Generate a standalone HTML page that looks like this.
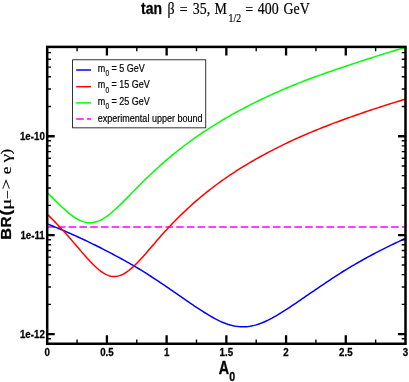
<!DOCTYPE html>
<html><head><meta charset="utf-8"><title>plot</title>
<style>html,body{margin:0;padding:0;background:#fff;overflow:hidden;-webkit-font-smoothing:antialiased}svg{display:block}text{font-family:"Liberation Sans",sans-serif;fill:#000;stroke:#000;stroke-width:0.2px;stroke-linejoin:round}.b{font-weight:bold;stroke-width:0.27px}.s{font-family:"Liberation Serif",serif}</style></head><body>
<svg style="will-change:transform" width="409" height="382" viewBox="0 0 409 382">
<rect x="0" y="0" width="409" height="382" fill="#fff"/>
<defs><clipPath id="cp"><rect x="47.2" y="46.9" width="358.3" height="296.85"/></clipPath></defs>
<g clip-path="url(#cp)" fill="none" stroke-width="1.5" stroke-linejoin="round">
<path d="M47.2,227.05 L405.5,227.05" stroke="#ff00ff" stroke-dasharray="7.6 3.147"/>
<path d="M47.20,192.44 L49.19,194.41 L51.18,196.40 L53.17,198.38 L55.16,200.36 L57.15,202.33 L59.14,204.27 L61.13,206.18 L63.12,208.06 L65.12,209.89 L67.11,211.65 L69.10,213.34 L71.09,214.93 L73.08,216.41 L75.07,217.75 L77.06,218.96 L79.05,220.01 L81.04,220.89 L83.03,221.61 L85.02,222.15 L87.01,222.50 L89.00,222.66 L90.99,222.63 L92.98,222.45 L94.97,222.09 L96.96,221.57 L98.95,220.87 L100.95,219.99 L102.94,218.95 L104.93,217.73 L106.92,216.34 L108.91,214.84 L110.90,213.23 L112.89,211.53 L114.88,209.76 L116.87,207.92 L118.86,206.03 L120.85,204.10 L122.84,202.13 L124.83,200.14 L126.82,198.13 L128.81,196.11 L130.80,194.08 L132.79,192.05 L134.78,190.03 L136.78,188.01 L138.77,186.00 L140.76,184.01 L142.75,182.03 L144.74,180.07 L146.73,178.13 L148.72,176.21 L150.71,174.31 L152.70,172.43 L154.69,170.58 L156.68,168.75 L158.67,166.94 L160.66,165.15 L162.65,163.39 L164.64,161.66 L166.63,159.94 L168.62,158.25 L170.61,156.58 L172.61,154.93 L174.60,153.31 L176.59,151.71 L178.58,150.12 L180.57,148.57 L182.56,147.03 L184.55,145.51 L186.54,144.01 L188.53,142.53 L190.52,141.08 L192.51,139.64 L194.50,138.22 L196.49,136.82 L198.48,135.44 L200.47,134.08 L202.46,132.73 L204.45,131.41 L206.44,130.10 L208.44,128.80 L210.43,127.53 L212.42,126.26 L214.41,125.02 L216.40,123.79 L218.39,122.57 L220.38,121.37 L222.37,120.18 L224.36,119.01 L226.35,117.85 L228.34,116.70 L230.33,115.57 L232.32,114.45 L234.31,113.35 L236.30,112.25 L238.29,111.17 L240.28,110.10 L242.27,109.04 L244.26,107.99 L246.26,106.96 L248.25,105.93 L250.24,104.92 L252.23,103.91 L254.22,102.92 L256.21,101.93 L258.20,100.96 L260.19,100.00 L262.18,99.04 L264.17,98.10 L266.16,97.16 L268.15,96.24 L270.14,95.32 L272.13,94.41 L274.12,93.51 L276.11,92.62 L278.10,91.74 L280.10,90.87 L282.09,90.01 L284.08,89.15 L286.07,88.30 L288.06,87.47 L290.05,86.63 L292.04,85.81 L294.03,85.00 L296.02,84.19 L298.01,83.40 L300.00,82.61 L301.99,81.83 L303.98,81.06 L305.97,80.29 L307.96,79.54 L309.95,78.78 L311.94,78.04 L313.93,77.30 L315.93,76.57 L317.92,75.85 L319.91,75.13 L321.90,74.41 L323.89,73.70 L325.88,73.00 L327.87,72.30 L329.86,71.61 L331.85,70.92 L333.84,70.23 L335.83,69.55 L337.82,68.87 L339.81,68.20 L341.80,67.53 L343.79,66.86 L345.78,66.20 L347.77,65.54 L349.76,64.88 L351.75,64.22 L353.75,63.57 L355.74,62.91 L357.73,62.26 L359.72,61.61 L361.71,60.97 L363.70,60.32 L365.69,59.68 L367.68,59.04 L369.67,58.41 L371.66,57.77 L373.65,57.14 L375.64,56.51 L377.63,55.88 L379.62,55.25 L381.61,54.63 L383.60,54.01 L385.59,53.39 L387.59,52.77 L389.58,52.15 L391.57,51.54 L393.56,50.93 L395.55,50.32 L397.54,49.71 L399.53,49.11 L401.52,48.51 L403.51,47.91 L405.50,47.31" stroke="#00ff00"/>
<path d="M47.20,223.87 L49.19,224.67 L51.18,225.47 L53.17,226.28 L55.16,227.09 L57.15,227.91 L59.14,228.74 L61.13,229.58 L63.12,230.42 L65.12,231.28 L67.11,232.14 L69.10,233.00 L71.09,233.88 L73.08,234.76 L75.07,235.65 L77.06,236.55 L79.05,237.46 L81.04,238.37 L83.03,239.30 L85.02,240.23 L87.01,241.17 L89.00,242.13 L90.99,243.09 L92.98,244.06 L94.97,245.03 L96.96,246.02 L98.95,247.02 L100.95,248.03 L102.94,249.05 L104.93,250.07 L106.92,251.11 L108.91,252.15 L110.90,253.19 L112.89,254.24 L114.88,255.29 L116.87,256.35 L118.86,257.42 L120.85,258.50 L122.84,259.58 L124.83,260.68 L126.82,261.79 L128.81,262.91 L130.80,264.05 L132.79,265.20 L134.78,266.37 L136.78,267.55 L138.77,268.75 L140.76,269.97 L142.75,271.20 L144.74,272.45 L146.73,273.70 L148.72,274.97 L150.71,276.25 L152.70,277.53 L154.69,278.83 L156.68,280.14 L158.67,281.46 L160.66,282.78 L162.65,284.12 L164.64,285.46 L166.63,286.82 L168.62,288.18 L170.61,289.54 L172.61,290.91 L174.60,292.29 L176.59,293.67 L178.58,295.05 L180.57,296.43 L182.56,297.82 L184.55,299.20 L186.54,300.58 L188.53,301.95 L190.52,303.31 L192.51,304.67 L194.50,306.01 L196.49,307.34 L198.48,308.65 L200.47,309.95 L202.46,311.24 L204.45,312.50 L206.44,313.73 L208.44,314.94 L210.43,316.12 L212.42,317.26 L214.41,318.35 L216.40,319.40 L218.39,320.40 L220.38,321.34 L222.37,322.22 L224.36,323.03 L226.35,323.77 L228.34,324.44 L230.33,325.04 L232.32,325.55 L234.31,325.98 L236.30,326.32 L238.29,326.57 L240.28,326.73 L242.27,326.79 L244.26,326.77 L246.26,326.67 L248.25,326.48 L250.24,326.20 L252.23,325.84 L254.22,325.39 L256.21,324.86 L258.20,324.24 L260.19,323.55 L262.18,322.78 L264.17,321.94 L266.16,321.05 L268.15,320.10 L270.14,319.09 L272.13,318.04 L274.12,316.95 L276.11,315.81 L278.10,314.64 L280.10,313.44 L282.09,312.21 L284.08,310.95 L286.07,309.67 L288.06,308.37 L290.05,307.05 L292.04,305.72 L294.03,304.38 L296.02,303.03 L298.01,301.67 L300.00,300.31 L301.99,298.95 L303.98,297.58 L305.97,296.21 L307.96,294.84 L309.95,293.48 L311.94,292.12 L313.93,290.76 L315.93,289.41 L317.92,288.06 L319.91,286.72 L321.90,285.38 L323.89,284.04 L325.88,282.71 L327.87,281.37 L329.86,280.04 L331.85,278.72 L333.84,277.40 L335.83,276.09 L337.82,274.80 L339.81,273.52 L341.80,272.25 L343.79,271.01 L345.78,269.77 L347.77,268.56 L349.76,267.37 L351.75,266.20 L353.75,265.03 L355.74,263.88 L357.73,262.73 L359.72,261.60 L361.71,260.48 L363.70,259.37 L365.69,258.27 L367.68,257.18 L369.67,256.10 L371.66,255.03 L373.65,253.98 L375.64,252.93 L377.63,251.89 L379.62,250.87 L381.61,249.85 L383.60,248.84 L385.59,247.85 L387.59,246.86 L389.58,245.88 L391.57,244.91 L393.56,243.95 L395.55,243.00 L397.54,242.06 L399.53,241.13 L401.52,240.20 L403.51,239.29 L405.50,238.38" stroke="#0000ff"/>
<path d="M47.20,214.24 L49.19,216.16 L51.18,218.11 L53.17,220.09 L55.16,222.12 L57.15,224.18 L59.14,226.29 L61.13,228.43 L63.12,230.61 L65.12,232.81 L67.11,235.05 L69.10,237.30 L71.09,239.58 L73.08,241.88 L75.07,244.18 L77.06,246.50 L79.05,248.82 L81.04,251.12 L83.03,253.42 L85.02,255.68 L87.01,257.91 L89.00,260.09 L90.99,262.21 L92.98,264.26 L94.97,266.21 L96.96,268.05 L98.95,269.76 L100.95,271.32 L102.94,272.71 L104.93,273.90 L106.92,274.89 L108.91,275.66 L110.90,276.19 L112.89,276.48 L114.88,276.52 L116.87,276.32 L118.86,275.89 L120.85,275.23 L122.84,274.34 L124.83,273.25 L126.82,271.96 L128.81,270.50 L130.80,268.87 L132.79,267.12 L134.78,265.25 L136.78,263.28 L138.77,261.23 L140.76,259.10 L142.75,256.92 L144.74,254.68 L146.73,252.39 L148.72,250.09 L150.71,247.78 L152.70,245.46 L154.69,243.16 L156.68,240.86 L158.67,238.58 L160.66,236.32 L162.65,234.08 L164.64,231.87 L166.63,229.68 L168.62,227.53 L170.61,225.41 L172.61,223.32 L174.60,221.27 L176.59,219.25 L178.58,217.26 L180.57,215.30 L182.56,213.37 L184.55,211.48 L186.54,209.61 L188.53,207.77 L190.52,205.95 L192.51,204.16 L194.50,202.40 L196.49,200.67 L198.48,198.96 L200.47,197.28 L202.46,195.62 L204.45,193.99 L206.44,192.39 L208.44,190.81 L210.43,189.25 L212.42,187.72 L214.41,186.21 L216.40,184.73 L218.39,183.26 L220.38,181.82 L222.37,180.40 L224.36,178.99 L226.35,177.61 L228.34,176.25 L230.33,174.91 L232.32,173.58 L234.31,172.27 L236.30,170.98 L238.29,169.71 L240.28,168.45 L242.27,167.21 L244.26,165.99 L246.26,164.78 L248.25,163.59 L250.24,162.41 L252.23,161.25 L254.22,160.10 L256.21,158.96 L258.20,157.84 L260.19,156.73 L262.18,155.63 L264.17,154.55 L266.16,153.48 L268.15,152.42 L270.14,151.38 L272.13,150.34 L274.12,149.32 L276.11,148.31 L278.10,147.31 L280.10,146.32 L282.09,145.34 L284.08,144.37 L286.07,143.41 L288.06,142.47 L290.05,141.53 L292.04,140.60 L294.03,139.68 L296.02,138.78 L298.01,137.88 L300.00,136.99 L301.99,136.11 L303.98,135.24 L305.97,134.38 L307.96,133.52 L309.95,132.68 L311.94,131.85 L313.93,131.02 L315.93,130.20 L317.92,129.39 L319.91,128.59 L321.90,127.79 L323.89,127.00 L325.88,126.22 L327.87,125.45 L329.86,124.68 L331.85,123.92 L333.84,123.17 L335.83,122.42 L337.82,121.68 L339.81,120.94 L341.80,120.21 L343.79,119.48 L345.78,118.76 L347.77,118.05 L349.76,117.34 L351.75,116.63 L353.75,115.93 L355.74,115.23 L357.73,114.54 L359.72,113.85 L361.71,113.17 L363.70,112.49 L365.69,111.81 L367.68,111.14 L369.67,110.47 L371.66,109.81 L373.65,109.15 L375.64,108.49 L377.63,107.84 L379.62,107.19 L381.61,106.55 L383.60,105.90 L385.59,105.27 L387.59,104.63 L389.58,104.00 L391.57,103.38 L393.56,102.76 L395.55,102.14 L397.54,101.52 L399.53,100.91 L401.52,100.30 L403.51,99.70 L405.50,99.10" stroke="#ff0000"/>
</g>
<g stroke="#000" fill="none">
<path d="M106.92,343.75 v-8.5 M106.92,46.9 v8.5 M166.63,343.75 v-8.5 M166.63,46.9 v8.5 M226.35,343.75 v-8.5 M226.35,46.9 v8.5 M286.07,343.75 v-8.5 M286.07,46.9 v8.5 M345.78,343.75 v-8.5 M345.78,46.9 v8.5 M47.2,334.16 h7.5 M405.5,334.16 h-7.5 M47.2,235.21 h7.5 M405.5,235.21 h-7.5 M47.2,136.26 h7.5 M405.5,136.26 h-7.5" stroke-width="2.3"/>
<path d="M77.06,343.75 v-4.3 M77.06,46.9 v4.3 M136.78,343.75 v-4.3 M136.78,46.9 v4.3 M196.49,343.75 v-4.3 M196.49,46.9 v4.3 M256.21,343.75 v-4.3 M256.21,46.9 v4.3 M315.93,343.75 v-4.3 M315.93,46.9 v4.3 M375.64,343.75 v-4.3 M375.64,46.9 v4.3 M47.2,338.69 h3.8 M405.5,338.69 h-3.8 M47.2,304.37 h3.8 M405.5,304.37 h-3.8 M47.2,286.95 h3.8 M405.5,286.95 h-3.8 M47.2,274.59 h3.8 M405.5,274.59 h-3.8 M47.2,265.00 h3.8 M405.5,265.00 h-3.8 M47.2,257.16 h3.8 M405.5,257.16 h-3.8 M47.2,250.54 h3.8 M405.5,250.54 h-3.8 M47.2,244.80 h3.8 M405.5,244.80 h-3.8 M47.2,239.74 h3.8 M405.5,239.74 h-3.8 M47.2,205.42 h3.8 M405.5,205.42 h-3.8 M47.2,188.00 h3.8 M405.5,188.00 h-3.8 M47.2,175.64 h3.8 M405.5,175.64 h-3.8 M47.2,166.05 h3.8 M405.5,166.05 h-3.8 M47.2,158.21 h3.8 M405.5,158.21 h-3.8 M47.2,151.59 h3.8 M405.5,151.59 h-3.8 M47.2,145.85 h3.8 M405.5,145.85 h-3.8 M47.2,140.79 h3.8 M405.5,140.79 h-3.8 M47.2,106.47 h3.8 M405.5,106.47 h-3.8 M47.2,89.05 h3.8 M405.5,89.05 h-3.8 M47.2,76.69 h3.8 M405.5,76.69 h-3.8 M47.2,67.10 h3.8 M405.5,67.10 h-3.8 M47.2,59.26 h3.8 M405.5,59.26 h-3.8 M47.2,52.64 h3.8 M405.5,52.64 h-3.8" stroke-width="1.4"/>
<rect x="47.2" y="46.9" width="358.3" height="296.85" stroke-width="2.5"/>
</g>
<rect x="72.6" y="59.8" width="133.15" height="68.05" fill="#fff" stroke="#000" stroke-width="0.8"/>
<path d="M76.2,70 H91" stroke="#0000ff" stroke-width="1.5" fill="none"/>
<path d="M76.2,86.7 H91" stroke="#ff0000" stroke-width="1.5" fill="none"/>
<path d="M76.2,102.9 H91" stroke="#00ff00" stroke-width="1.5" fill="none"/>
<path d="M76.2,118.9 H91" stroke="#ff00ff" stroke-width="1.5" fill="none" stroke-dasharray="7.6 3.147"/>
<text transform="translate(97.8,71.7) scale(0.82,1)" font-size="11" class="" text-anchor="start">m</text>
<text transform="translate(105.6,76.0) scale(0.72,1)" font-size="9" class="" text-anchor="start">0</text>
<text transform="translate(111.5,71.7) scale(0.82,1)" font-size="11" class="" text-anchor="start">= 5 GeV</text>
<text transform="translate(97.8,88.4) scale(0.82,1)" font-size="11" class="" text-anchor="start">m</text>
<text transform="translate(105.6,92.7) scale(0.72,1)" font-size="9" class="" text-anchor="start">0</text>
<text transform="translate(111.5,88.4) scale(0.82,1)" font-size="11" class="" text-anchor="start">= 15 GeV</text>
<text transform="translate(97.8,104.6) scale(0.82,1)" font-size="11" class="" text-anchor="start">m</text>
<text transform="translate(105.6,108.9) scale(0.72,1)" font-size="9" class="" text-anchor="start">0</text>
<text transform="translate(111.5,104.6) scale(0.82,1)" font-size="11" class="" text-anchor="start">= 25 GeV</text>
<text transform="translate(97.8,121.5) scale(0.82,1)" font-size="11" class="" text-anchor="start">experimental upper bound</text>
<text transform="translate(47.20,356.3) scale(0.84,1)" font-size="11.6" class="b" text-anchor="middle">0</text>
<text transform="translate(106.92,356.3) scale(0.84,1)" font-size="11.6" class="b" text-anchor="middle">0.5</text>
<text transform="translate(166.63,356.3) scale(0.84,1)" font-size="11.6" class="b" text-anchor="middle">1</text>
<text transform="translate(226.35,356.3) scale(0.84,1)" font-size="11.6" class="b" text-anchor="middle">1.5</text>
<text transform="translate(286.07,356.3) scale(0.84,1)" font-size="11.6" class="b" text-anchor="middle">2</text>
<text transform="translate(345.78,356.3) scale(0.84,1)" font-size="11.6" class="b" text-anchor="middle">2.5</text>
<text transform="translate(405.50,356.3) scale(0.84,1)" font-size="11.6" class="b" text-anchor="middle">3</text>
<text transform="translate(44.8,140.46) scale(0.84,1)" font-size="11.6" class="b" text-anchor="end">1e-10</text>
<text transform="translate(44.8,239.41) scale(0.84,1)" font-size="11.6" class="b" text-anchor="end">1e-11</text>
<text transform="translate(44.8,338.36) scale(0.84,1)" font-size="11.6" class="b" text-anchor="end">1e-12</text>
<text transform="translate(141.0,14.2) scale(0.82,1)" font-size="17" class="b" text-anchor="start">tan</text>
<text transform="translate(167.6,14.2) scale(0.82,1)" font-size="17" class="s" text-anchor="start">β</text>
<text transform="translate(179.7,15.2) scale(0.82,1)" font-size="17" class="s" text-anchor="start">=</text>
<text transform="translate(192.8,14.2) scale(0.82,1)" font-size="17" class="s" text-anchor="start">35,</text>
<text transform="translate(214.6,14.2) scale(0.82,1)" font-size="17" class="s" text-anchor="start">M</text>
<text transform="translate(228.6,21.8) scale(0.82,1)" font-size="12" class="s" text-anchor="start">1/2</text>
<text transform="translate(245.3,15.2) scale(0.82,1)" font-size="17" class="s" text-anchor="start">=</text>
<text transform="translate(257.8,14.2) scale(0.82,1)" font-size="17" class="s" text-anchor="start">400</text>
<text transform="translate(283.5,14.2) scale(0.82,1)" font-size="17" class="s" text-anchor="start">GeV</text>
<text transform="translate(218.8,373.6) scale(0.82,1)" font-size="17.5" class="b">A<tspan font-size="13" dy="7.6">0</tspan></text>
<text transform="translate(10.7,239.8) rotate(-90) scale(0.96,0.82)" font-size="17" class="b">B</text>
<text transform="translate(10.7,227.5) rotate(-90) scale(0.9,0.82)" font-size="17" class="b">R</text>
<text transform="translate(10.7,215.4) rotate(-90) scale(1,0.82)" font-size="17" class="b">(</text>
<text transform="translate(10.7,210.1) rotate(-90) scale(1.25,0.82)" font-size="17" class="s">μ</text>
<text transform="translate(10.7,198.2) rotate(-90) scale(0.85,0.82)" font-size="17" class="s">–</text>
<text transform="translate(10.7,189.5) rotate(-90) scale(1.1,0.82)" font-size="17" class="s">&gt;</text>
<text transform="translate(10.7,174.2) rotate(-90) scale(1,0.82)" font-size="17" class="s">e</text>
<text transform="translate(10.7,162.6) rotate(-90) scale(1.15,0.82)" font-size="17" class="s">γ</text>
<text transform="translate(10.7,154.6) rotate(-90) scale(1,0.82)" font-size="17" class="s">)</text>
</svg></body></html>
